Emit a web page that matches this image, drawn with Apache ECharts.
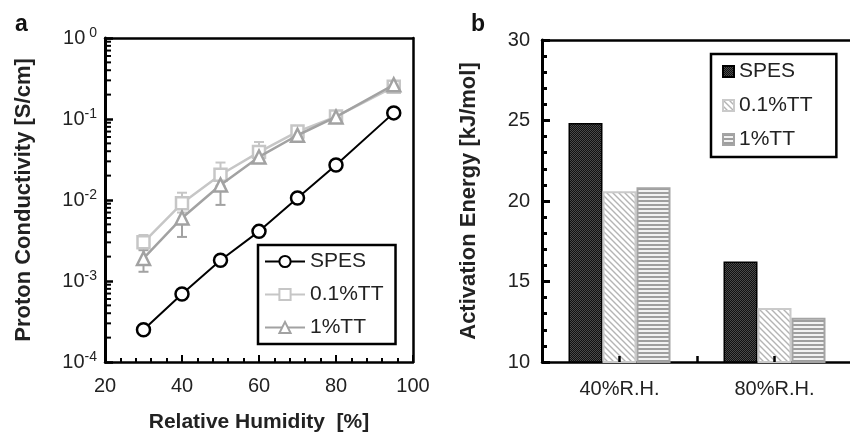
<!DOCTYPE html>
<html>
<head>
<meta charset="utf-8">
<script src="https://cdn.jsdelivr.net/npm/echarts@6/dist/echarts.min.js"></script>
<style>
  html, body { margin: 0; padding: 0; background: #fff; }
  #main { width: 850px; height: 433px; }
</style>
</head>
<body>
<div id="main"></div>
<script>
// panel a: proton conductivity vs relative humidity
var humidity = [30, 40, 50, 60, 70, 80, 95]
var spesCond = [2.5e-4, 6.9e-4, 1.8e-3, 4.1e-3, 1.06e-2, 2.7e-2, 0.119]
var tt01Cond = [3.0e-3, 9.1e-3, 2.05e-2, 3.9e-2, 0.07, 0.107, 0.25]
var tt1Cond = [1.9e-3, 6.0e-3, 1.53e-2, 3.4e-2, 0.063, 0.106, 0.265]
// error bars [x, low, high]
var tt01Err = [[30, 2.5e-3, 3.7e-3], [40, 7e-3, 1.23e-2], [50, 1.5e-2, 2.9e-2], [60, 3e-2, 5.2e-2], [70, 5.8e-2, 8.2e-2], [80, 0.097, 0.122], [95, 0.23, 0.28]]
var tt1Err = [[30, 1.3e-3, 2.4e-3], [40, 3.5e-3, 8.2e-3], [50, 8.7e-3, 2.2e-2], [60, 2.9e-2, 3.9e-2], [70, 5.5e-2, 7.2e-2], [80, 0.097, 0.116], [95, 0.24, 0.29]]
// minor ticks of the log axis (2..9 in each decade)
var mantissas = [2, 3, 4, 5, 6, 7, 8, 9]
var decades = [1e-4, 1e-3, 1e-2, 1e-1]

// panel b: activation energy
var rhCategories = ['40%R.H.', '80%R.H.']
var spesEa = [24.85, 16.25]
var tt01Ea = [20.6, 13.35]
var tt1Ea = [20.85, 12.75]

var seriesNames = ['SPES', '0.1%TT', '1%TT']
var grey1 = '#c6c6c6'
var grey2 = '#a2a2a2'
var tickColor = '#000'

function makePattern (w, h, draw) {
  var c = document.createElement('canvas')
  c.width = w
  c.height = h
  draw(c.getContext('2d'))
  return { image: c, repeat: 'repeat' }
}

var dotPattern = makePattern(2, 2, function (ctx) {
  ctx.fillStyle = '#111'
  ctx.fillRect(0, 0, 2, 2)
  ctx.fillStyle = '#4a4a4a'
  ctx.fillRect(0, 0, 1, 1)
  ctx.fillRect(1, 1, 1, 1)
})
var diagPattern = makePattern(6, 6, function (ctx) {
  ctx.fillStyle = '#fff'
  ctx.fillRect(0, 0, 6, 6)
  ctx.strokeStyle = '#b4b4b4'
  ctx.lineWidth = 1.4
  ctx.beginPath()
  ctx.moveTo(0, 0); ctx.lineTo(6, 6)
  ctx.moveTo(-1, 5); ctx.lineTo(1, 7)
  ctx.moveTo(5, -1); ctx.lineTo(7, 1)
  ctx.stroke()
})
var hPattern = makePattern(4, 4, function (ctx) {
  ctx.fillStyle = '#f2f2f2'
  ctx.fillRect(0, 0, 4, 4)
  ctx.fillStyle = '#9e9e9e'
  ctx.fillRect(0, 0, 4, 2)
})

var minorTicks = []
decades.forEach(function (d) {
  mantissas.forEach(function (m) {
    minorTicks.push([20, m * d])
  })
})

function zip (xs, ys) {
  return xs.map(function (x, i) { return [x, ys[i]] })
}

var font = 'Liberation Sans, Arial, sans-serif'
var labelStyle = { color: '#222', fontSize: 20, fontFamily: font }
var nameStyle = { color: '#222', fontSize: 21, fontWeight: 'bold', fontFamily: font }
var axisLine = { show: true, lineStyle: { color: '#000', width: 2.5 } }

function errorBar (color) {
  return function (params, api) {
    var x = api.value(0)
    var lo = api.coord([x, api.value(1)])
    var hi = api.coord([x, api.value(2)])
    var style = { stroke: color, lineWidth: 2 }
    return {
      type: 'group',
      children: [
        { type: 'line', shape: { x1: lo[0], y1: lo[1], x2: hi[0], y2: hi[1] }, style: style },
        { type: 'line', shape: { x1: lo[0] - 5, y1: lo[1], x2: lo[0] + 5, y2: lo[1] }, style: style },
        { type: 'line', shape: { x1: hi[0] - 5, y1: hi[1], x2: hi[0] + 5, y2: hi[1] }, style: style }
      ]
    }
  }
}

var chart = echarts.init(document.getElementById('main'))

var option = {
  animation: false,
  backgroundColor: '#fff',
  title: [
    { text: 'a', left: 10, top: 8, textStyle: { fontSize: 23, fontWeight: 'bold', color: '#111', fontFamily: font } },
    { text: 'b', left: 466, top: 8, textStyle: { fontSize: 23, fontWeight: 'bold', color: '#111', fontFamily: font } }
  ],
  grid: [
    { left: 105, right: 437, top: 38, bottom: 71, outerBoundsMode: 'none' },
    { left: 542, right: -2, top: 40, bottom: 71, outerBoundsMode: 'none' }
  ],
  legend: [
    {
      data: seriesNames.map(function (n) { return { name: n } }),
      orient: 'vertical',
      left: 258,
      top: 245,
      borderColor: '#000',
      borderWidth: 2.5,
      padding: [6, 12, 6, 6],
      itemWidth: 40,
      itemHeight: 14,
      itemGap: 12,
      textStyle: { fontSize: 21, color: '#222', fontFamily: font },
      selectedMode: false
    },
    {
      data: seriesNames.map(function (n) { return { name: n + ' ' } }),
      orient: 'vertical',
      left: 711,
      top: 54,
      borderColor: '#000',
      borderWidth: 2.5,
      padding: [7, 18, 7, 11],
      icon: 'rect',
      itemWidth: 11,
      itemHeight: 11,
      itemGap: 13,
      textStyle: { fontSize: 21, color: '#222', fontFamily: font },
      selectedMode: false
    }
  ],
  xAxis: [
    {
      gridIndex: 0,
      type: 'value',
      min: 20,
      max: 100,
      interval: 20,
      name: 'Relative Humidity  [%]',
      nameLocation: 'middle',
      nameGap: 50,
      nameTextStyle: nameStyle,
      axisLine: axisLine,
      axisTick: { show: true, inside: true, length: 7, lineStyle: { color: tickColor, width: 2 } },
      minorTick: { show: true, splitNumber: 5, length: 4, lineStyle: { color: tickColor, width: 2 } },
      splitLine: { show: false },
      axisLabel: Object.assign({ margin: 14 }, labelStyle)
    },
    {
      gridIndex: 0,
      type: 'value',
      position: 'top',
      min: 20,
      max: 100,
      axisLine: axisLine,
      axisTick: { show: false },
      axisLabel: { show: false },
      splitLine: { show: false }
    },
    {
      gridIndex: 1,
      type: 'category',
      data: rhCategories,
      axisLine: axisLine,
      axisTick: { show: true, inside: true, length: 6, lineStyle: { color: tickColor, width: 2.5 } },
      axisLabel: Object.assign({ margin: 17 }, labelStyle),
      splitLine: { show: false }
    },
    {
      gridIndex: 1,
      type: 'category',
      data: rhCategories,
      position: 'bottom',
      z: 10,
      axisLine: { show: false },
      axisTick: { show: true, inside: true, alignWithLabel: true, length: 6, lineStyle: { color: tickColor, width: 2.5 } },
      axisLabel: { show: false },
      splitLine: { show: false }
    },
    {
      gridIndex: 1,
      type: 'category',
      data: rhCategories,
      position: 'top',
      axisLine: axisLine,
      axisTick: { show: false },
      axisLabel: { show: false },
      splitLine: { show: false }
    }
  ],
  yAxis: [
    {
      gridIndex: 0,
      type: 'log',
      logBase: 10,
      min: 1e-4,
      max: 1,
      name: 'Proton Conductivity [S/cm]',
      nameLocation: 'middle',
      nameGap: 70,
      nameTextStyle: Object.assign({}, nameStyle, { fontSize: 22 }),
      axisLine: { show: true, lineStyle: { color: '#000', width: 3 } },
      axisTick: { show: true, inside: true, length: 8, lineStyle: { color: tickColor, width: 2.5 } },
      splitLine: { show: false },
      axisLabel: {
        margin: 8,
        formatter: function (v) {
          var e = Math.round(Math.log10(v))
          return '{b|10}{s|' + (e === 0 ? ' 0' : e) + '}'
        },
        rich: {
          b: { fontSize: 20, color: '#222', fontFamily: font },
          s: { fontSize: 14, color: '#222', fontFamily: font, padding: [0, 0, 10, 0] }
        }
      }
    },
    {
      gridIndex: 0,
      type: 'log',
      position: 'right',
      min: 1e-4,
      max: 1,
      axisLine: axisLine,
      axisTick: { show: false },
      axisLabel: { show: false },
      splitLine: { show: false }
    },
    {
      gridIndex: 1,
      type: 'value',
      min: 10,
      max: 30,
      interval: 5,
      name: 'Activation Energy [kJ/mol]',
      nameLocation: 'middle',
      nameGap: 62,
      nameTextStyle: Object.assign({}, nameStyle, { fontSize: 22 }),
      axisLine: { show: true, lineStyle: { color: '#000', width: 3 } },
      axisTick: { show: true, inside: true, length: 8, lineStyle: { color: tickColor, width: 3 } },
      minorTick: { show: true, splitNumber: 5, length: 5, lineStyle: { color: tickColor, width: 3 } },
      splitLine: { show: false },
      axisLabel: Object.assign({ margin: 12 }, labelStyle)
    }
  ],
  series: [
    {
      type: 'custom',
      xAxisIndex: 0,
      yAxisIndex: 0,
      data: minorTicks,
      silent: true,
      z: 6,
      renderItem: function (params, api) {
        var p = api.coord([api.value(0), api.value(1)])
        return { type: 'line', shape: { x1: p[0], y1: p[1], x2: p[0] + 6, y2: p[1] }, style: { stroke: tickColor, lineWidth: 2 } }
      }
    },
    {
      type: 'custom',
      xAxisIndex: 0,
      yAxisIndex: 0,
      data: tt01Err,
      silent: true,
      z: 1,
      renderItem: errorBar(grey1)
    },
    {
      type: 'custom',
      xAxisIndex: 0,
      yAxisIndex: 0,
      data: tt1Err,
      silent: true,
      z: 1,
      renderItem: errorBar(grey2)
    },
    {
      name: '0.1%TT',
      type: 'line',
      xAxisIndex: 0,
      yAxisIndex: 0,
      data: zip(humidity, tt01Cond),
      symbol: 'rect',
      symbolSize: 12,
      lineStyle: { color: grey1, width: 2.5 },
      itemStyle: { color: '#fff', borderColor: grey1, borderWidth: 2.5 },
      z: 3
    },
    {
      name: '1%TT',
      type: 'line',
      xAxisIndex: 0,
      yAxisIndex: 0,
      data: zip(humidity, tt1Cond),
      symbol: 'triangle',
      symbolSize: 13,
      lineStyle: { color: grey2, width: 2.5 },
      itemStyle: { color: '#fff', borderColor: grey2, borderWidth: 2.5 },
      z: 4
    },
    {
      name: 'SPES',
      type: 'line',
      xAxisIndex: 0,
      yAxisIndex: 0,
      data: zip(humidity, spesCond),
      symbol: 'circle',
      symbolSize: 13,
      lineStyle: { color: '#000', width: 2 },
      itemStyle: { color: '#fff', borderColor: '#000', borderWidth: 2.5 },
      z: 5
    },
    {
      name: 'SPES ',
      type: 'bar',
      xAxisIndex: 2,
      yAxisIndex: 2,
      data: spesEa,
      barWidth: 34,
      barGap: '0%',
      itemStyle: { color: dotPattern, borderColor: '#000', borderWidth: 1.5 }
    },
    {
      name: '0.1%TT ',
      type: 'bar',
      xAxisIndex: 2,
      yAxisIndex: 2,
      data: tt01Ea,
      barWidth: 34,
      barGap: '0%',
      itemStyle: { color: diagPattern, borderColor: '#cacaca', borderWidth: 2 }
    },
    {
      name: '1%TT ',
      type: 'bar',
      xAxisIndex: 2,
      yAxisIndex: 2,
      data: tt1Ea,
      barWidth: 34,
      barGap: '0%',
      itemStyle: { color: hPattern, borderColor: '#a4a4a4', borderWidth: 2 }
    }
  ]
}

chart.setOption(option)
</script>
</body>
</html>
